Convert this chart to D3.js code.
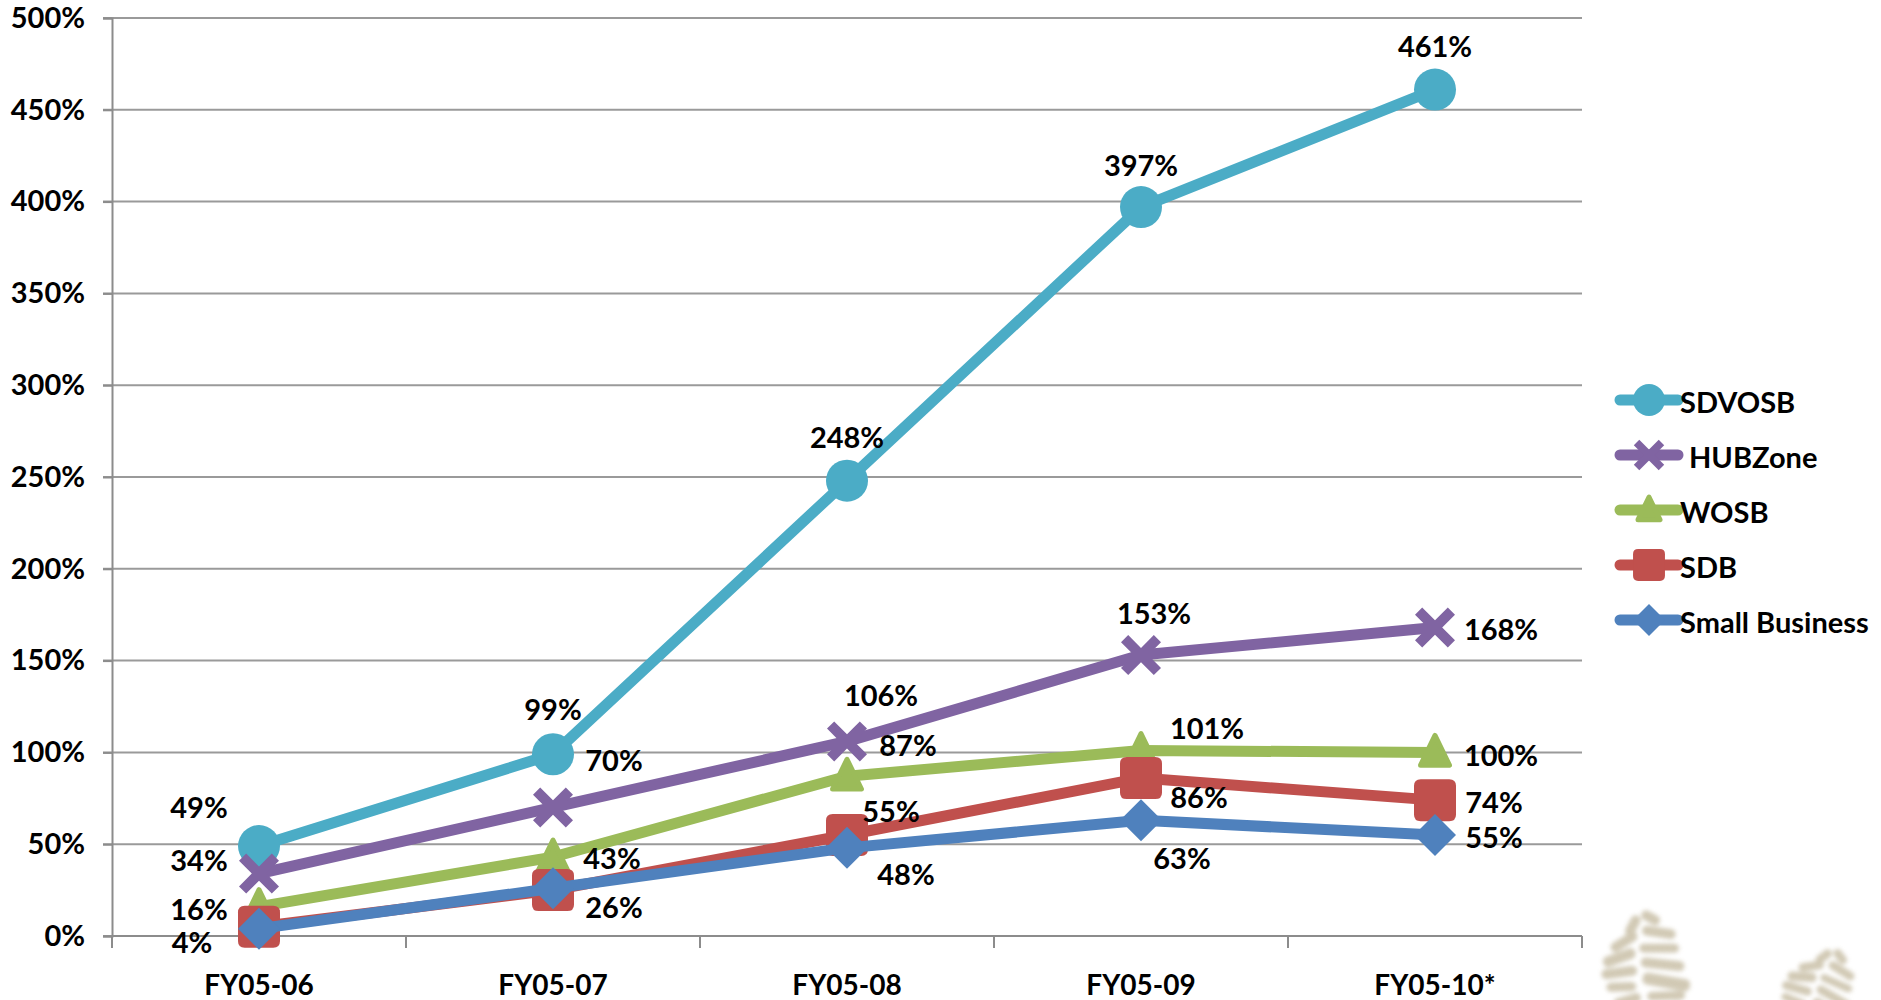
<!DOCTYPE html>
<html>
<head>
<meta charset="utf-8">
<script src="https://cdn.jsdelivr.net/npm/d3@7"></script>
<style>
  html, body { margin: 0; padding: 0; background: #fff; }
  svg { display: block; font-family: Lato, "Open Sans", "DejaVu Sans", sans-serif; font-weight: 700; }
</style>
</head>
<body>
<svg id="chart" width="1881" height="1000"></svg>
<script>
// Cumulative growth since FY05, by small-business category
const categories = ["FY05-06", "FY05-07", "FY05-08", "FY05-09", "FY05-10*"];
const seriesNames = ["SDVOSB", "HUBZone", "WOSB", "SDB", "Small Business"];
const sdvosb = [49, 99, 248, 397, 461];
const hubzone = [34, 70, 106, 153, 168];
const wosb = [16, 43, 87, 101, 100];
const sdb = [5, 25, 55, 86, 74];
const smallBusiness = [4, 26, 48, 63, 55];
// which points carry a value label (overlapping ones are left unlabelled)
const sdbLabelled = [false, false, true, true, true];
const yTicks = [0, 50, 100, 150, 200, 250, 300, 350, 400, 450, 500];

const colors = ["#4BACC6", "#8064A2", "#9BBB59", "#C0504D", "#4F81BD"];
const markers = ["circle", "cross", "triangle", "square", "diamond"];

// label offsets from each point, in pixels
const labelOffsets = [
  [[-60, -40], [0, -46], [0, -44], [0, -43], [0, -44]],
  [[-60, -14], [61, -48], [34, -47], [13, -43], [66, 1]],
  [[-60, 2], [59, 0], [61, -32], [66, -23], [66, 2]],
  [[0, 0], [0, 0], [44, -25], [58, 18], [59, 1]],
  [[-67, 13], [61, 18], [59, 26], [41, 37], [59, 1]]
];

const series = [sdvosb, hubzone, wosb, sdb, smallBusiness].map((vals, i) => ({
  name: seriesNames[i],
  color: colors[i],
  marker: markers[i],
  points: vals.map((v, j) => ({
    cat: categories[j], v,
    labelled: i === 3 ? sdbLabelled[j] : true,
    off: labelOffsets[i][j]
  }))
}));

const svg = d3.select("#chart");
const plotLeft = 112, plotRight = 1582, plotTop = 18, plotBottom = 936;

const x = d3.scaleBand().domain(categories).range([plotLeft, plotRight]).paddingInner(0).paddingOuter(0);
const y = d3.scaleLinear().domain([0, 500]).range([plotBottom, plotTop]);
const cx = c => x(c) + x.bandwidth() / 2;

// horizontal gridlines
svg.append("g")
  .selectAll("line").data(yTicks).join("line")
  .attr("x1", plotLeft - 9).attr("x2", plotRight)
  .attr("y1", d => y(d)).attr("y2", d => y(d))
  .attr("stroke", "#9a9a9a").attr("stroke-width", 2);

// y axis
const yAxis = svg.append("g").attr("transform", `translate(${plotLeft},0)`)
  .call(d3.axisLeft(y).tickValues(yTicks).tickFormat(d => d + "%").tickSize(9).tickPadding(18));
yAxis.select(".domain").attr("stroke", "#8c8c8c").attr("stroke-width", 2);
yAxis.selectAll(".tick line").attr("stroke", "#8c8c8c").attr("stroke-width", 2);
yAxis.selectAll("text").attr("font-size", 29).attr("font-weight", 700).attr("fill", "#000")
  .attr("font-family", "Lato, sans-serif");

// x axis: ticks at category boundaries
const xAxisG = svg.append("g").attr("transform", `translate(0,${plotBottom})`);
xAxisG.append("line").attr("x1", plotLeft).attr("x2", plotRight).attr("y1", 0).attr("y2", 0)
  .attr("stroke", "#8c8c8c").attr("stroke-width", 2);
const bounds = categories.map(c => x(c)).concat([plotRight]);
xAxisG.selectAll("line.tick").data(bounds).join("line").attr("class", "tick")
  .attr("x1", d => d).attr("x2", d => d).attr("y1", 0).attr("y2", 12)
  .attr("stroke", "#8c8c8c").attr("stroke-width", 2);
xAxisG.selectAll("text").data(categories).join("text")
  .attr("x", d => cx(d)).attr("y", 59)
  .attr("text-anchor", "middle").attr("font-size", 28).attr("fill", "#000")
  .text(d => d);

// marker shapes
function markerPath(type, s) {
  const h = s / 2;
  switch (type) {
    case "square": {
      const r = s * 0.16;
      return `M${-h + r},${-h}H${h - r}Q${h},${-h} ${h},${-h + r}V${h - r}Q${h},${h} ${h - r},${h}H${-h + r}Q${-h},${h} ${-h},${h - r}V${-h + r}Q${-h},${-h} ${-h + r},${-h}Z`;
    }
    case "diamond":
      return `M0,${-h}L${h},0L0,${h}L${-h},0Z`;
    case "triangle":
      return `M0,${-h}L${h * 0.85},${h * 0.75}L${-h * 0.85},${h * 0.75}Z`;
    case "cross": {
      const w = s * 0.18;
      return `M${-h},${-h + w}L${-h + w},${-h}L0,${-w}L${h - w},${-h}L${h},${-h + w}L${w},0L${h},${h - w}L${h - w},${h}L0,${w}L${-h + w},${h}L${-h},${h - w}L${-w},0Z`;
    }
  }
}
function drawMarker(g, type, color, s) {
  if (type === "circle") {
    g.append("circle").attr("r", s / 2).attr("fill", color);
  } else {
    g.append("path").attr("d", markerPath(type, s)).attr("fill", color)
      .attr("stroke", color).attr("stroke-width", type === "triangle" ? 5 : 0)
      .attr("stroke-linejoin", "round");
  }
}
const markerSize = { circle: 42, cross: 40, triangle: 34, square: 42, diamond: 42 };

// lines and markers
const line = d3.line().x(d => cx(d.cat)).y(d => y(d.v));
const sg = svg.append("g").selectAll("g.series").data(series).join("g").attr("class", "series");
sg.each(function (s) {
  const g = d3.select(this);
  g.append("path").attr("d", line(s.points)).attr("fill", "none")
    .attr("stroke", s.color).attr("stroke-width", 11)
    .attr("stroke-linejoin", "round").attr("stroke-linecap", "round");
  s.points.forEach(p => {
    const mg = g.append("g").attr("transform", `translate(${cx(p.cat)},${y(p.v)})`);
    drawMarker(mg, s.marker, s.color, markerSize[s.marker]);
  });
});

// value labels
const lg = svg.append("g");
series.forEach(s => {
  s.points.filter(p => p.labelled).forEach(p => {
    lg.append("text")
      .attr("x", cx(p.cat) + p.off[0]).attr("y", y(p.v) + p.off[1])
      .attr("text-anchor", "middle").attr("dominant-baseline", "central")
      .attr("font-size", 29).attr("fill", "#000")
      .text(p.v + "%");
  });
});

// legend
const legend = svg.append("g").attr("transform", "translate(1620,400)");
series.forEach((s, i) => {
  const g = legend.append("g").attr("transform", `translate(0,${i * 55})`);
  g.append("line").attr("x1", 0).attr("x2", 58).attr("y1", 0).attr("y2", 0)
    .attr("stroke", s.color).attr("stroke-width", 11).attr("stroke-linecap", "round");
  const mg = g.append("g").attr("transform", "translate(29,0)");
  drawMarker(mg, s.marker, s.color, markerSize[s.marker] * 0.76);
  g.append("text").attr("x", s.name === "HUBZone" ? 69 : 60).attr("y", 1)
    .attr("dominant-baseline", "central").attr("font-size", 29).attr("fill", "#000")
    .text(s.name);
});

// boot-print ornaments in the lower right corner
const defs = svg.append("defs");
defs.append("filter").attr("id", "soft").append("feGaussianBlur").attr("stdDeviation", 2.2);
function bootPrint(tx, ty, sc, rot) {
  const g = svg.append("g")
    .attr("transform", `translate(${tx},${ty}) rotate(${rot}) scale(${sc})`)
    .attr("filter", "url(#soft)").attr("fill", "#c6bca2").attr("opacity", 0.8);
  const bars = [
    [-14, -6, 22, 10, -50], [6, -10, 20, 10, 40], [-30, 8, 30, 10, -20], [4, 6, 34, 10, 20],
    [-40, 22, 34, 11, -8], [-2, 22, 40, 9, 12], [-44, 37, 36, 10, 4], [-4, 38, 44, 10, 18],
    [-42, 52, 30, 9, 10], [-6, 55, 48, 12, 22], [-38, 66, 28, 10, -4], [-4, 70, 38, 9, 10],
    [-36, 80, 26, 10, 0], [-6, 84, 34, 11, -6]
  ];
  bars.forEach(b => {
    g.append("rect").attr("x", b[0]).attr("y", b[1]).attr("width", b[2]).attr("height", b[3])
      .attr("rx", 5).attr("transform", `rotate(${b[4]},${b[0] + b[2] / 2},${b[1] + b[3] / 2})`);
  });
}
bootPrint(1636, 926, 1.0, -12);
bootPrint(1826, 958, 0.85, 12);
</script>
</body>
</html>
